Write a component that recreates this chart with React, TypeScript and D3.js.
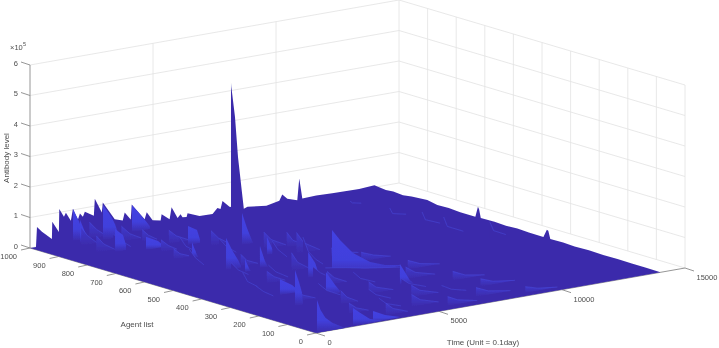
import React from 'react';
import * as d3 from 'd3';

// ticks
const agentTicks = [0, 100, 200, 300, 400, 500, 600, 700, 800, 900, 1000];
const timeTicks = [0, 5000, 10000, 15000];
const levelTicks = [0, 1, 2, 3, 4, 5, 6];

// back edge of the surface (agent 1000), level in units of 1e5
const ridgeTimes = [0, 243, 284, 486, 890, 905, 1175, 1190, 1380, 1460, 1660, 1745, 1945, 2030, 2150, 2230, 2595, 2635, 2920, 2960, 3445, 3770, 3850, 4095, 4135, 4660, 4745, 4985, 5310, 5350, 5675, 5755, 6000, 6120, 6200, 6365, 6405, 6890, 7420, 7620, 7745, 7825, 8110, 8675, 8840, 9610, 10135, 10255, 10460, 10865, 10945, 11070, 11635, 12285, 13380, 14000];
const ridgeLevels = [0, 0, 0.65, 0.46, 0.17, 0.73, 0.36, 1.11, 0.83, 0.95, 0.66, 1.04, 0.65, 0.84, 0.72, 0.87, 0.69, 1.24, 0.75, 1.07, 0.45, 0.37, 0.62, 0.35, 0.84, 0.28, 0.5, 0.2, 0.15, 0.35, 0.14, 0.52, 0.13, 0.24, 0.13, 0.11, 0.23, 0.07, 0.06, 0.23, 0.18, 0.43, 0.2, 0.05, 0.1, 0.02, 0.11, 0.3, 0.13, 0.02, 0.72, 0.05, 0.07, 0.05, 0.03, 0.07];

// right edge of the surface (time 14000)
const edgeAgents = [1000, 960, 934, 900, 870, 815, 780, 740, 700, 647, 638, 634, 628, 580, 540, 500, 460, 409, 397, 392, 385, 340, 300, 250, 200, 150, 100, 50, 0];
const edgeLevels = [0.07, 0.02, 0.05, 0.02, 0.06, 0.1, 0.03, 0.05, 0.02, 0.02, 0.37, 0.3, 0.03, 0.04, 0.02, 0.04, 0.02, 0.02, 0.29, 0.27, 0.02, 0.03, 0.01, 0.03, 0.01, 0.02, 0.01, 0.01, 0];

// tallest response
const peakAgent = 800;
const peakTimes = [5845, 5860, 6008, 6130, 6280, 6373, 6620];
const peakLevels = [5.17, 5.0, 4.0, 2.67, 1.57, 0.9, 0.6];

// bright responses: agent, times, levels
const brightAgents = [995, 985, 972, 964, 860, 835, 817, 746, 715, 640, 582, 553, 543, 417, 386, 327, 268, 245, 227, 8, 6, 0];
const brightTimes = [
  [1690, 1935, 2100],
  [3972, 4216, 4500, 4700],
  [1707, 1910, 2032],
  [2549, 2752, 2915, 3037, 3159],
  [1829, 2154, 2276],
  [2797, 3285, 3529],
  [4296, 4662, 4784],
  [5666, 5870, 6113],
  [3272, 3475, 3530],
  [5447, 5650, 5770],
  [3110, 3354, 3598, 3720],
  [4150, 4353, 4470],
  [3427, 3590, 3660],
  [4530, 4815, 4936, 5020],
  [5138, 5463, 5992, 6683, 7293, 7902],
  [2337, 2825, 3069],
  [3520, 3886, 4090],
  [6260, 6666, 6800],
  [1785, 1948, 2070, 2110],
  [2410, 2898, 3508],
  [1573, 1858, 2264, 2752],
  [40, 180, 380, 660, 1180],
];
const brightLevels = [
  [1.05, 0.62, 0.2],
  [0.88, 0.62, 0.32, 0.09],
  [0.75, 0.33, 0.03],
  [1.15, 0.89, 0.67, 0.45, 0.14],
  [0.75, 0.51, 0.16],
  [0.43, 0.22, 0.03],
  [0.62, 0.44, 0.1],
  [1.05, 0.52, 0],
  [0.52, 0.07, 0],
  [0.59, 0.2, 0],
  [1.05, 0.62, 0.26, 0.05],
  [0.72, 0.2, 0],
  [0.43, 0.1, 0],
  [0.85, 0.45, 0.14, 0],
  [1.57, 1.2, 0.7, 0.3, 0.12, 0.03],
  [0.52, 0.26, 0.06],
  [0.75, 0.28, 0.05],
  [0.69, 0.1, 0],
  [1.18, 0.76, 0.39, 0.05],
  [0.36, 0.16, 0],
  [0.58, 0.38, 0.12, 0],
  [1.08, 0.74, 0.45, 0.24, 0],
];

// middling responses, the dappled texture across the busy part
const midAgents = [990, 950, 930, 900, 880, 850, 800, 780, 730, 690, 670, 610, 590, 540, 490, 470, 430, 400, 350, 340, 280, 260, 220, 210, 180, 140, 130, 100, 70, 60, 40, 30, 25];
const midTimes = [
  [2300, 2600, 3000], [1500, 1750, 2150], [2900, 3250, 3700], [3400, 3650, 4000],
  [1300, 1600, 2050], [3900, 4200, 4750], [3000, 3300, 3650], [4800, 5100, 5500],
  [2700, 2950, 3400], [5900, 6200, 6800], [6600, 6850, 7300], [6300, 6600, 7250],
  [3800, 4050, 4500], [6900, 7300, 8000], [4700, 4950, 5400], [7300, 7800, 8500],
  [3000, 3300, 3750], [6300, 6700, 7500], [7800, 8300, 9100], [4400, 4700, 5200],
  [6900, 7300, 8100], [2200, 2500, 3000], [4700, 5000, 5700], [8000, 8500, 9300],
  [3100, 3350, 3800], [5500, 5850, 6600], [8200, 8700, 9600], [2500, 2800, 3300],
  [4700, 5050, 5800], [7200, 7700, 8600], [3300, 3600, 4200], [5700, 6100, 6900],
  [8800, 9300, 10100],
];
const midLevels = [
  [0.55, 0.26, 0], [0.6, 0.3, 0], [0.5, 0.2, 0], [0.4, 0.18, 0],
  [0.55, 0.24, 0], [0.45, 0.22, 0], [0.4, 0.17, 0], [0.5, 0.22, 0],
  [0.35, 0.15, 0], [0.55, 0.26, 0], [0.5, 0.2, 0], [0.7, 0.32, 0],
  [0.4, 0.16, 0], [0.3, 0.12, 0], [0.6, 0.25, 0], [0.3, 0.14, 0],
  [0.4, 0.18, 0], [0.35, 0.16, 0], [0.3, 0.12, 0], [0.45, 0.2, 0],
  [0.4, 0.17, 0], [0.35, 0.16, 0], [0.4, 0.18, 0], [0.3, 0.11, 0],
  [0.45, 0.2, 0], [0.4, 0.18, 0], [0.25, 0.1, 0], [0.35, 0.15, 0],
  [0.4, 0.18, 0], [0.3, 0.12, 0], [0.4, 0.18, 0], [0.3, 0.14, 0],
  [0.2, 0.08, 0],
];

// faint responses, only their crest shows
const faintAgents = [900, 880, 760, 760, 700, 650, 650, 600, 560, 520, 500, 480, 450, 420, 380, 370, 330, 300, 250, 200, 160, 120, 90];
const faintTimes = [
  [11850, 11950, 12300],
  [2000, 2300, 2700],
  [3300, 3550, 3950],
  [11830, 11950, 12500],
  [4200, 4500, 4900],
  [2400, 2650, 3000],
  [11870, 12000, 12600],
  [5200, 5420, 5800],
  [11700, 11850, 12500],
  [2600, 2900, 3300],
  [5285, 5500, 5800, 6100],
  [12650, 12800, 13300],
  [3300, 3600, 4100],
  [1900, 2100, 2500],
  [4300, 4600, 5100],
  [4680, 5500, 6300, 7730],
  [1400, 1700, 2100],
  [5000, 5300, 5900],
  [3000, 3350, 3900],
  [5800, 6100, 6800],
  [4000, 4300, 4900],
  [6500, 6900, 7500],
  [3600, 3900, 4500],
];
const faintLevels = [
  [0.13, 0.06, 0],
  [0.5, 0.25, 0],
  [0.55, 0.22, 0],
  [0.3, 0.1, 0],
  [0.55, 0.24, 0],
  [0.6, 0.28, 0],
  [0.47, 0.2, 0],
  [0.6, 0.3, 0],
  [0.58, 0.25, 0],
  [0.48, 0.2, 0],
  [1.0, 0.5, 0.2, 0],
  [0.5, 0.2, 0],
  [0.5, 0.24, 0],
  [0.55, 0.22, 0],
  [0.5, 0.26, 0],
  [0.44, 0.33, 0.2, 0.03],
  [0.42, 0.2, 0],
  [0.45, 0.2, 0],
  [0.5, 0.22, 0],
  [0.4, 0.2, 0],
  [0.42, 0.2, 0],
  [0.3, 0.12, 0],
  [0.38, 0.16, 0],
];

const width = 719;
const height = 348;
const originX = 316;
const originY = 333;

// axonometric view: each axis gets a screen offset in x and y
const agentDx = d3.scaleLinear().domain([0, 1000]).range([0, -286]);
const agentDy = d3.scaleLinear().domain([0, 1000]).range([0, -85]);
const timeDx = d3.scaleLinear().domain([0, 15000]).range([0, 369]);
const timeDy = d3.scaleLinear().domain([0, 15000]).range([0, -65]);
const levelDy = d3.scaleLinear().domain([0, 6]).range([0, -183]);

const px = (a: number, t: number) => originX + agentDx(a) + timeDx(t);
const py = (a: number, t: number, z: number) => originY + agentDy(a) + timeDy(t) + levelDy(z);

type P3 = [number, number, number];
const path3 = d3.line<P3>().x(d => px(d[0], d[1])).y(d => py(d[0], d[1], d[2]));

const crest = (a: number, times: number[], levels: number[]): P3[] =>
  times.map((t, i) => [a, t, levels[i]] as P3);

const finPoints = (a: number, times: number[], levels: number[]): P3[] => [
  [a, times[0], 0],
  ...crest(a, times, levels),
  [a, times[times.length - 1], 0],
];

const DARK = '#3b2bab';
const GRID = '#e2e2e2';
const AXIS = '#8a8a8a';
const TEXT = '#4d4d4d';

const fins = [
  ...faintAgents.map((a, i) => ({ a, kind: 'faint', times: faintTimes[i], levels: faintLevels[i] })),
  ...midAgents.map((a, i) => ({ a, kind: 'mid', times: midTimes[i], levels: midLevels[i] })),
  ...brightAgents.map((a, i) => ({ a, kind: 'bright', times: brightTimes[i], levels: brightLevels[i] })),
  { a: peakAgent, kind: 'peak', times: peakTimes, levels: peakLevels },
].sort((p, q) => q.a - p.a);

const finFill: Record<string, string> = {
  faint: DARK,
  mid: 'url(#mid)',
  bright: 'url(#bright)',
  peak: 'url(#peak)',
};

const surfaceOutline: P3[] = [
  [0, 0, 0],
  ...ridgeTimes.map((t, i) => [1000, t, ridgeLevels[i]] as P3),
  ...edgeAgents.map((a, i) => [a, 14000, edgeLevels[i]] as P3),
];

export default function App() {
  return (
    <svg
      width={width}
      height={height}
      style={{ position: 'absolute', left: 0, top: 0, background: '#fff' }}
      fontFamily="'Liberation Sans', Arial, sans-serif"
    >
      <defs>
        <linearGradient id="bright" x1="0" y1="0" x2="0" y2="1">
          <stop offset="0" stopColor="#4342e2" />
          <stop offset="0.62" stopColor="#4140dc" />
          <stop offset="1" stopColor={DARK} />
        </linearGradient>
        <linearGradient id="mid" x1="0" y1="0" x2="0" y2="1">
          <stop offset="0" stopColor="#4039cc" />
          <stop offset="1" stopColor={DARK} />
        </linearGradient>
        <linearGradient id="peak" x1="0" y1="0" x2="0" y2="1">
          <stop offset="0" stopColor="#f2e98a" />
          <stop offset="0.018" stopColor="#6a72c8" />
          <stop offset="0.05" stopColor={DARK} />
        </linearGradient>
        <filter id="soft" x="-5%" y="-5%" width="110%" height="110%">
          <feGaussianBlur stdDeviation="0.35" />
        </filter>
      </defs>

      {/* walls */}
      <g stroke={GRID} strokeWidth={0.8} fill="none">
        {levelTicks.map(z => (
          <path
            key={z}
            d={path3([[1000, 0, z], [1000, 15000, z], [0, 15000, z]]) as string}
          />
        ))}
        {timeTicks.slice(1).map(t => (
          <path key={t} d={path3([[1000, t, 0], [1000, t, 6]]) as string} />
        ))}
        {agentTicks.slice(0, -1).map(a => (
          <path key={a} d={path3([[a, 15000, 0], [a, 15000, 6]]) as string} />
        ))}
      </g>

      {/* axes */}
      <g stroke={AXIS} strokeWidth={0.9} fill="none">
        <path d={path3([[1000, 0, 0], [1000, 0, 6]]) as string} />
        <path d={path3([[1000, 0, 0], [0, 0, 0], [0, 15000, 0]]) as string} />
        {levelTicks.map(z => (
          <line key={z} x1={px(1000, 0)} y1={py(1000, 0, z)} x2={px(1000, 0) - 9} y2={py(1000, 0, z) - 3} />
        ))}
        {agentTicks.map(a => (
          <line key={a} x1={px(a, 0)} y1={py(a, 0, 0)} x2={px(a, 0) - 9} y2={py(a, 0, 0) + 2} />
        ))}
        {timeTicks.map(t => (
          <line key={t} x1={px(0, t)} y1={py(0, t, 0)} x2={px(0, t) + 9} y2={py(0, t, 0) + 3} />
        ))}
      </g>

      {/* surface */}
      <g filter="url(#soft)">
        <path d={`${path3(surfaceOutline)}Z`} fill={DARK} />
        {fins.map((f, i) => (
          <g key={i}>
            <path d={`${path3(finPoints(f.a, f.times, f.levels))}Z`} fill={finFill[f.kind]} />
            {(f.kind === 'faint' || f.kind === 'mid') && (
              <path d={path3(crest(f.a, f.times, f.levels)) as string} fill="none" stroke="#4a4de0" strokeWidth={0.5} />
            )}
          </g>
        ))}
      </g>

      {/* labels */}
      <g fill={TEXT} fontSize={7.5} filter="url(#soft)">
        {levelTicks.map(z => (
          <text key={z} x={18} y={py(1000, 0, z) + 0.6} textAnchor="end">{z}</text>
        ))}
        {agentTicks.map(a => (
          <text key={a} x={px(a, 0) - 13} y={py(a, 0, 0) + 11.3} textAnchor="end">{a}</text>
        ))}
        {timeTicks.map(t => (
          <text key={t} x={px(0, t) + 11.5} y={py(0, t, 0) + 12} textAnchor="start">{t}</text>
        ))}
        <text x={10} y={50}>×10</text>
        <text x={23} y={46} fontSize={5.5}>5</text>
      </g>
      <g fill={TEXT} fontSize={8} textAnchor="middle" filter="url(#soft)">
        <text transform="translate(8.5,158) rotate(-90)">Antibody level</text>
        <text x={137} y={327}>Agent list</text>
        <text x={483} y={345}>Time (Unit = 0.1day)</text>
      </g>
    </svg>
  );
}
